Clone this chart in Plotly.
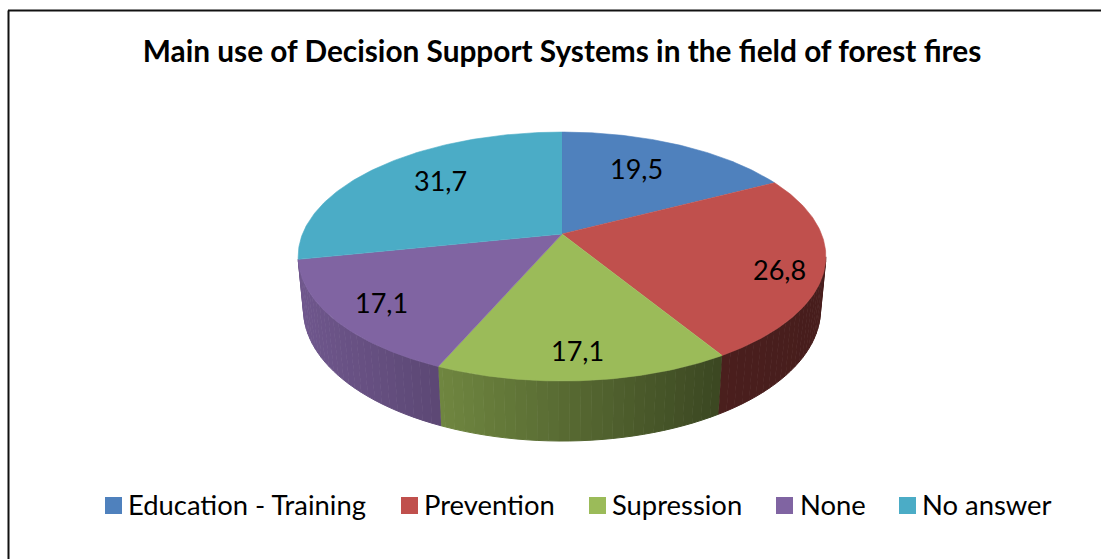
"""
Main use of Decision Support Systems in the field of forest fires.
Tilted 3D pie drawn as filled scatter polygons on a pixel-sized axis pair.
"""

import numpy as np
import plotly.graph_objects as go

# --- Data ---
CATEGORIES = ["Education - Training", "Prevention", "Supression", "None", "No answer"]
VALUES = [19.5, 26.8, 17.1, 17.1, 31.7]
VALUE_LABELS = ["19,5", "26,8", "17,1", "17,1", "31,7"]
COLORS = ["#4F81BD", "#C0504D", "#9BBB59", "#8064A2", "#4BACC6"]

TITLE = "Main use of Decision Support Systems in the field of forest fires"

# --- Pie projection, in page pixels ---
CENTER_X = 562
CENTER_Y = 234
RADIUS_X = 259.5
RADIUS_Y = 120.4
PERSPECTIVE = 0.181
DEPTH = 53.3
DEPTH_W = 0.02

LABEL_X = [636, 779, 577, 381, 440]
LABEL_Y = [168, 269, 350, 302, 180]
LABEL_FONT = {"family": "Lato", "size": 27, "color": "black"}

KEY_SWATCH_X = [113.5, 409.5, 597.5, 784.5, 907.5]
KEY_TEXT_X = [126, 422, 610, 798, 920]
KEY_SWATCH_Y = 505.5
KEY_TEXT_Y = 504.5
KEY_FONT = {"family": "Lato", "size": 27.4, "color": "black"}


def project(theta, lowered=False):
    """
    Project rim angles (clockwise from the back of the pie) to page pixels.
    """

    u = np.sin(theta)
    v = np.cos(theta)
    w = 1 + PERSPECTIVE * v
    if lowered:
        w = w + DEPTH_W
        return CENTER_X + RADIUS_X * u / w, CENTER_Y + (DEPTH - RADIUS_Y * v) / w
    return CENTER_X + RADIUS_X * u / w, CENTER_Y - RADIUS_Y * v / w


def shade(hex_color, x_pixel):
    """
    Darken a slice colour along the side wall, stronger towards the right.
    """

    factor = np.interp(x_pixel, [300, 440, 717, 826], [0.87, 0.72, 0.39, 0.37])
    channels = [int(hex_color[i:i + 2], 16) for i in (1, 3, 5)]
    r, g, b = [int(c * factor) for c in channels]
    return f"rgb({r},{g},{b})"


fractions = np.cumsum([0] + VALUES) / sum(VALUES)
edges = 2 * np.pi * fractions

fig = go.Figure()

# Side wall first, the top faces are painted over it
for i, color in enumerate(COLORS):
    steps = np.arange(edges[i], edges[i + 1], np.radians(2))
    steps = np.append(steps, edges[i + 1])
    for a, b in zip(steps[:-1], steps[1:]):
        # only the front of the rim is ever visible
        if np.cos((a + b) / 2) > -0.19:
            continue
        arc = np.array([a, b])
        x_top, y_top = project(arc)
        x_low, y_low = project(arc[::-1], lowered=True)
        wall = shade(color, float(x_top.mean()))
        fig.add_trace(
            go.Scatter(
                x=np.r_[x_top, x_low],
                y=np.r_[y_top, y_low],
                mode="lines",
                fill="toself",
                fillcolor=wall,
                line={"color": wall, "width": 1},
                hoverinfo="skip",
                showlegend=False,
            )
        )

# Top faces
for i, color in enumerate(COLORS):
    arc = np.linspace(edges[i], edges[i + 1], 120)
    x_arc, y_arc = project(arc)
    fig.add_trace(
        go.Scatter(
            x=np.r_[CENTER_X, x_arc],
            y=np.r_[CENTER_Y, y_arc],
            mode="lines",
            fill="toself",
            fillcolor=color,
            line={"color": color, "width": 0.6},
            name=CATEGORIES[i],
            text=f"{CATEGORIES[i]}: {VALUE_LABELS[i]}",
            hoverinfo="text",
            showlegend=False,
        )
    )

# Key along the bottom, placed by hand because the spacing of the real legend is fixed
for category, color, swatch_x, text_x in zip(CATEGORIES, COLORS, KEY_SWATCH_X, KEY_TEXT_X):
    fig.add_trace(
        go.Scatter(
            x=[swatch_x],
            y=[KEY_SWATCH_Y],
            mode="markers",
            marker={"symbol": "square", "size": 17, "color": color},
            name=category,
            hoverinfo="name",
            showlegend=False,
        )
    )
    fig.add_annotation(
        x=text_x, y=KEY_TEXT_Y, text=category, showarrow=False, xanchor="left", font=KEY_FONT
    )

for label, x_pos, y_pos in zip(VALUE_LABELS, LABEL_X, LABEL_Y):
    fig.add_annotation(x=x_pos, y=y_pos, text=label, showarrow=False, font=LABEL_FONT)

fig.add_shape(type="line", x0=8.5, x1=8.5, y0=10.5, y1=559, line={"color": "#111111", "width": 2})
fig.add_shape(type="line", x0=8, x1=1101, y0=10.5, y1=10.5, line={"color": "#111111", "width": 2})

fig.update_layout(
    width=1101,
    height=559,
    margin={"l": 0, "r": 0, "t": 0, "b": 0},
    paper_bgcolor="white",
    plot_bgcolor="white",
    title={
        "text": f"<b>{TITLE}</b>",
        "x": 562 / 1101,
        "xanchor": "center",
        "y": 1 - 52 / 559,
        "yanchor": "middle",
        "font": {"family": "Lato", "size": 29.8, "color": "black"},
    },
    xaxis={"range": [0, 1101], "visible": False, "fixedrange": True},
    yaxis={"range": [559, 0], "visible": False, "fixedrange": True},
)

fig.write_html(
    "out.html",
    config={"displayModeBar": False},
    post_script="document.body.style.margin = '0';",
)
